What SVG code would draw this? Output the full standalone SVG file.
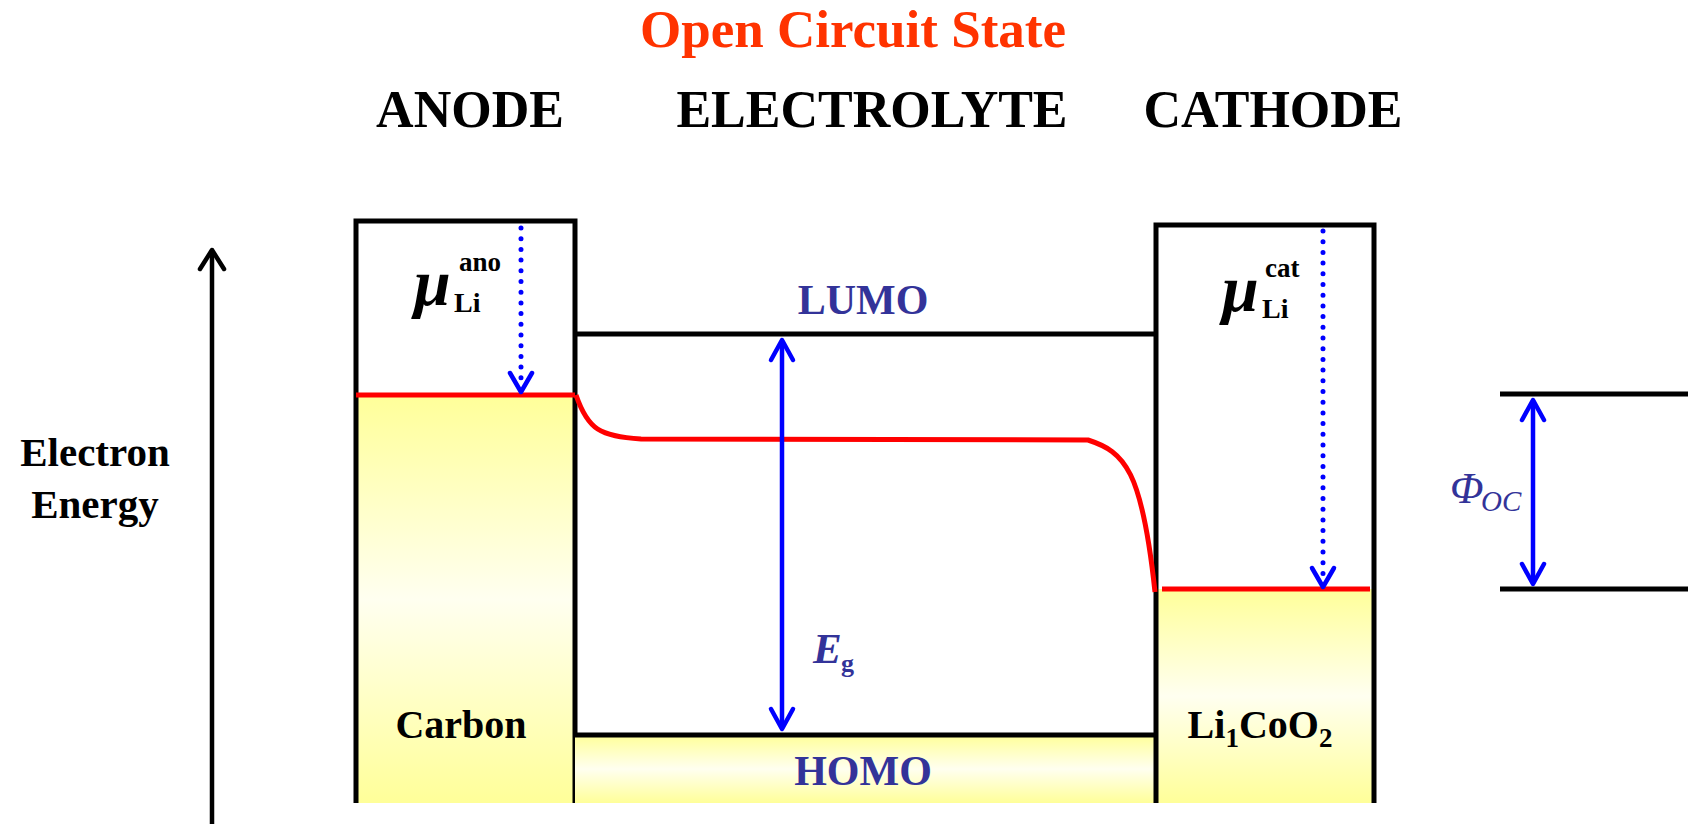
<svg xmlns="http://www.w3.org/2000/svg" width="1688" height="824" viewBox="0 0 1688 824">
<style>
.t{font-family:"Liberation Serif","Times New Roman",serif;font-weight:bold}
.nv{fill:#333399}
.bk{stroke:#000;stroke-width:5;fill:none}
.rd{stroke:#FF0000;stroke-width:5;fill:none}
.bl{stroke:#0000FF;stroke-width:4.5;fill:none;stroke-linecap:round;stroke-linejoin:round}
.dot{stroke:#0000FF;stroke-width:5;fill:none;stroke-linecap:round;stroke-dasharray:0 10.7}
</style>
<defs>
<linearGradient id="yel" x1="0" y1="0" x2="0" y2="1">
<stop offset="0" stop-color="#FFFF99"/>
<stop offset="0.5" stop-color="#FFFFF0"/>
<stop offset="1" stop-color="#FFFF99"/>
</linearGradient>
</defs>
<rect width="1688" height="824" fill="#fff"/>

<g id="headings">
<text class="t" x="853" y="47" font-size="53" fill="#FF3300" text-anchor="middle">Open Circuit State</text>
<text class="t" x="470" y="127" font-size="52" fill="#000" text-anchor="middle">ANODE</text>
<text class="t" x="872" y="127" font-size="52" fill="#000" text-anchor="middle">ELECTROLYTE</text>
<text class="t" x="1273" y="127" font-size="52" fill="#000" text-anchor="middle">CATHODE</text>
</g>

<g id="axis">
<line x1="212" y1="251" x2="212" y2="824" stroke="#000" stroke-width="4.5"/>
<path d="M200,269 L212,250 L224,269" fill="none" stroke="#000" stroke-width="4.5" stroke-linecap="round" stroke-linejoin="round"/>
<text class="t" x="95" y="466" font-size="41" text-anchor="middle">Electron</text>
<text class="t" x="95" y="518" font-size="41" text-anchor="middle">Energy</text>
</g>

<g id="anode">
<rect x="356" y="395" width="219" height="408" fill="url(#yel)"/>
<path class="bk" d="M356,803 L356,221 L575,221 L575,803"/>
<line class="rd" x1="356" y1="395" x2="575" y2="395"/>
<text class="t" x="414" y="305" font-size="66" font-style="italic">μ</text>
<text class="t" x="459" y="271" font-size="27">ano</text>
<text class="t" x="454" y="312" font-size="28">Li</text>
<text class="t" x="461" y="738" font-size="40" text-anchor="middle">Carbon</text>
</g>

<g id="electrolyte">
<rect x="575" y="735" width="581" height="68" fill="url(#yel)"/>
<line class="bk" x1="575" y1="334" x2="1156" y2="334"/>
<line class="bk" x1="575" y1="735" x2="1156" y2="735"/>
<text class="t nv" x="863" y="314" font-size="42" text-anchor="middle">LUMO</text>
<text class="t nv" x="863" y="785" font-size="42" text-anchor="middle">HOMO</text>
<text class="t nv" x="813" y="663" font-size="43" font-style="italic">E</text>
<text class="t nv" x="841" y="672" font-size="26">g</text>
</g>

<g id="cathode">
<rect x="1156" y="589" width="218" height="214" fill="url(#yel)"/>
<path class="bk" d="M1156,803 L1156,225 L1374,225 L1374,803"/>
<line class="rd" x1="1162" y1="589" x2="1370" y2="589"/>
<text class="t" x="1222" y="311" font-size="66" font-style="italic">μ</text>
<text class="t" x="1265" y="277" font-size="27">cat</text>
<text class="t" x="1262" y="318" font-size="28">Li</text>
<text class="t" x="1260" y="738" font-size="40" text-anchor="middle">Li<tspan font-size="27" dy="9">1</tspan><tspan dy="-9">CoO</tspan><tspan font-size="27" dy="9">2</tspan></text>
</g>

<g id="potential">
<line class="bk" x1="1500" y1="394" x2="1688" y2="394"/>
<line class="bk" x1="1500" y1="589" x2="1688" y2="589"/>
<text x="1450" y="503" font-family="Liberation Serif, serif" font-size="44" font-style="italic" fill="#333399">Φ</text>
<text x="1481" y="511" font-family="Liberation Serif, serif" font-size="29" font-style="italic" fill="#333399">OC</text>
</g>

<g id="connectors">
<path class="rd" d="M576,395 C588,430 600,436 641,439 L1088,440 C1125,452 1142,470 1155,592"/>
<line class="dot" x1="521" y1="228" x2="521" y2="384"/>
<path class="bl" d="M510,373 L521,392 L532,373"/>
<line class="dot" x1="1323" y1="231" x2="1323" y2="578"/>
<path class="bl" d="M1312,568 L1323,587 L1334,568"/>
<line class="bl" x1="782" y1="342" x2="782" y2="727"/>
<path class="bl" d="M771,360 L782,340 L793,360"/>
<path class="bl" d="M771,709 L782,729 L793,709"/>
<line class="bl" x1="1533" y1="401" x2="1533" y2="583"/>
<path class="bl" d="M1522,420 L1533,400 L1544,420"/>
<path class="bl" d="M1522,564 L1533,584 L1544,564"/>
</g>
</svg>
